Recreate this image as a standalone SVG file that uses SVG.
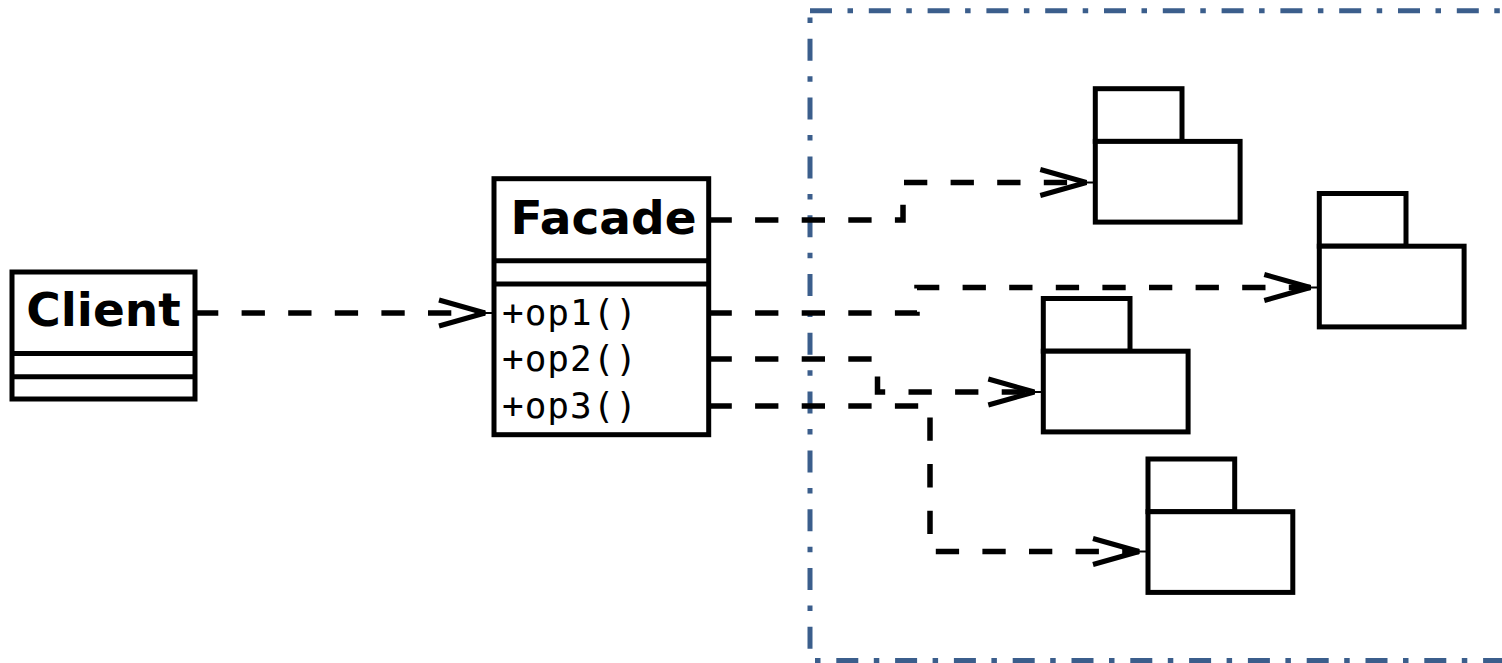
<svg xmlns="http://www.w3.org/2000/svg" xmlns:xlink="http://www.w3.org/1999/xlink" width="1502" height="663" viewBox="0 0 1502 663">
<style>
.box{fill:#fff;stroke:#000;stroke-width:5}
.div{stroke:#000;stroke-width:5}
.title{font-family:"DejaVu Sans",Verdana,sans-serif;font-weight:bold;font-size:47px;fill:#000;text-anchor:middle}
.op{font-family:"DejaVu Sans Mono","Liberation Mono",monospace;font-size:36px;fill:#000;letter-spacing:1px}
.conn{fill:none;stroke:#000;stroke-width:5.5;stroke-dasharray:23.3 23.3}
.bd{fill:none;stroke:#3b5e8c;stroke-width:5;stroke-dasharray:22 15.5 5.5 15.8}
.ahl{fill:none;stroke:#000;stroke-width:5;stroke-linejoin:bevel}
.stub{stroke:#000;stroke-width:2}
</style>
<defs>
<g id="ah">
<line class="stub" x1="-9" y1="0" x2="0" y2="0"/>
<polyline class="ahl" points="-55,-13 -9,0 -55,13"/>
</g>
<g id="pkg">
<rect class="box" x="0" y="0" width="86.7" height="52.7"/>
<rect class="box" x="0" y="52.7" width="144.8" height="80.7"/>
</g>
</defs>
<g id="boundary">
<line class="bd" x1="810" y1="10.7" x2="1510" y2="10.7"/>
<line class="bd" x1="810" y1="10.7" x2="810" y2="660.5" style="stroke-dashoffset:30.7"/>
<line class="bd" x1="810" y1="660.5" x2="1510" y2="660.5" style="stroke-dashoffset:32.5"/>
</g>
<g id="connectors">
<path class="conn" d="M195,313 H485"/>
<use xlink:href="#ah" transform="translate(494,313)"/>
<path class="conn" d="M708.5,220 H903 V182.5 H1086.5"/>
<use xlink:href="#ah" transform="translate(1095.3,182.5)"/>
<path class="conn" d="M708.5,313 H917 V287.5 H1310.5"/>
<use xlink:href="#ah" transform="translate(1319.3,287.5)"/>
<path class="conn" d="M708.5,359 H877.5 V392 H1034.5"/>
<use xlink:href="#ah" transform="translate(1043.3,392)"/>
<path class="conn" d="M708.5,406 H930 V551.5 H1139"/>
<use xlink:href="#ah" transform="translate(1148,551.5)"/>
</g>
<g id="client">
<rect class="box" x="12" y="272" width="183" height="127"/>
<line class="div" x1="12" y1="353.5" x2="195" y2="353.5"/>
<line class="div" x1="12" y1="376.7" x2="195" y2="376.7"/>
<text class="title" x="103.5" y="326">Client</text>
</g>
<g id="facade">
<rect class="box" x="494" y="178.7" width="214.7" height="256"/>
<line class="div" x1="494" y1="260.7" x2="708.7" y2="260.7"/>
<line class="div" x1="494" y1="284" x2="708.7" y2="284"/>
<text class="title" x="603.5" y="233.5">Facade</text>
<text class="op" x="502" y="325">+op1()</text>
<text class="op" x="502" y="371">+op2()</text>
<text class="op" x="502" y="418">+op3()</text>
</g>
<g id="package1"><use xlink:href="#pkg" transform="translate(1095.3,88.7)"/></g>
<g id="package2"><use xlink:href="#pkg" transform="translate(1319.3,193.5)"/></g>
<g id="package3"><use xlink:href="#pkg" transform="translate(1043.3,298.5)"/></g>
<g id="package4"><use xlink:href="#pkg" transform="translate(1148,459)"/></g>
</svg>
